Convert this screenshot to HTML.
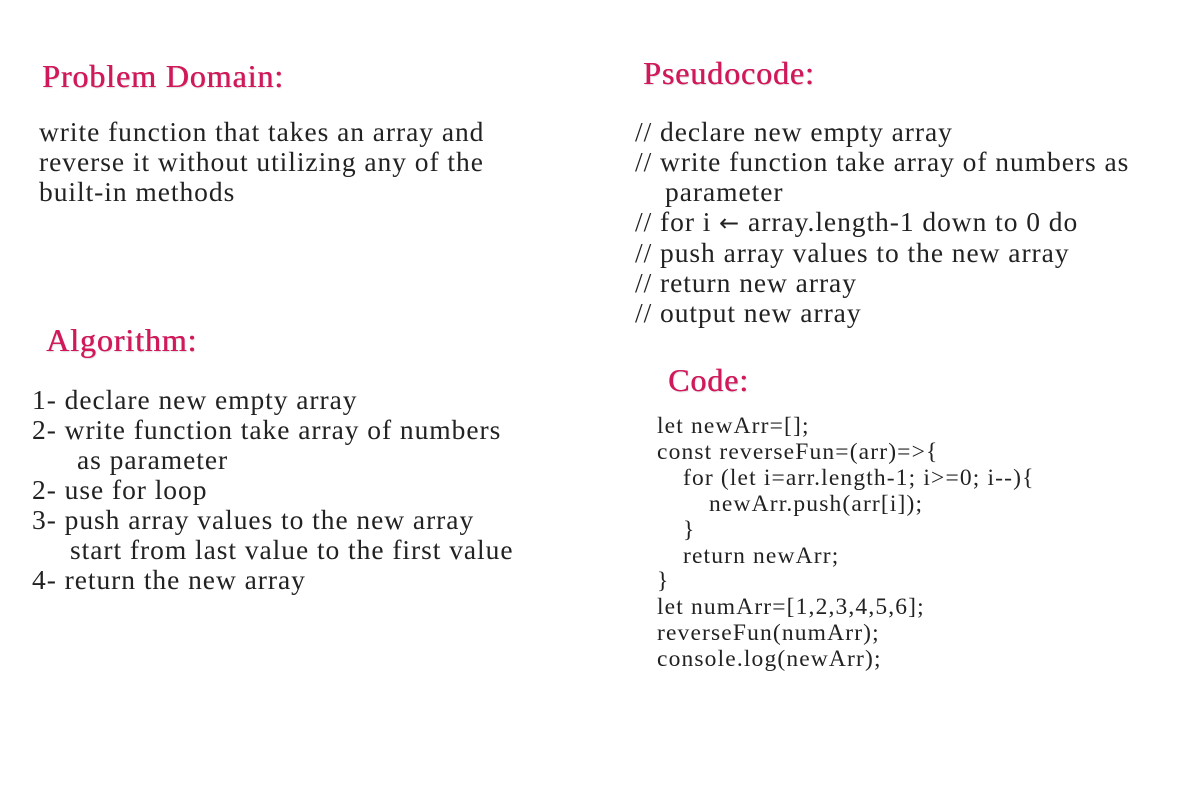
<!DOCTYPE html>
<html><head><meta charset="utf-8"><style>
body{margin:0;width:1200px;height:800px;background:#fff;position:relative;overflow:hidden;font-family:"Liberation Serif",serif;color:#222}
.h{position:absolute;color:#d0185a;font-size:32px;letter-spacing:0.9px;white-space:nowrap;text-shadow:0.5px 0 0 #d0185a,1px 1px 1px rgba(0,0,0,.15)}
.t{position:absolute;font-size:27.5px;letter-spacing:0.95px;line-height:30px;white-space:nowrap}
.c{position:absolute;font-size:23.5px;letter-spacing:1.15px;line-height:25.9px;white-space:nowrap}
.c div,.t div{position:relative}
.ar{font-family:"DejaVu Sans",sans-serif;font-size:24px}
</style></head><body>
<div class="h" style="left:42px;top:58px">Problem Domain:</div>
<div class="t" style="left:39px;top:117px"><div>write function that takes an array and</div><div>reverse it without utilizing any of the</div><div>built-in methods</div></div>
<div class="h" style="left:643px;top:55px">Pseudocode:</div>
<div class="t" style="left:635px;top:117px"><div>// declare new empty array</div><div>// write function take array of numbers as</div><div style="left:30px">parameter</div><div>// for i <span class="ar">←</span> array.length-1 down to 0 do</div><div>// push array values to the new array</div><div>// return new array</div><div>// output new array</div></div>
<div class="h" style="left:46px;top:322px">Algorithm:</div>
<div class="t" style="left:32px;top:385px"><div>1- declare new empty array</div><div>2- write function take array of numbers</div><div style="left:45px">as parameter</div><div>2- use for loop</div><div>3- push array values to the new array</div><div style="left:38px">start from last value to the first value</div><div>4- return the new array</div></div>
<div class="h" style="left:668px;top:362px">Code:</div>
<div class="c" style="left:657px;top:414px"><div>let newArr=[];</div><div>const reverseFun=(arr)=&gt;{</div><div style="left:26px">for (let i=arr.length-1; i&gt;=0; i--){</div><div style="left:52px">newArr.push(arr[i]);</div><div style="left:26px">}</div><div style="left:26px">return newArr;</div><div>}</div><div>let numArr=[1,2,3,4,5,6];</div><div>reverseFun(numArr);</div><div>console.log(newArr);</div></div>
</body></html>
